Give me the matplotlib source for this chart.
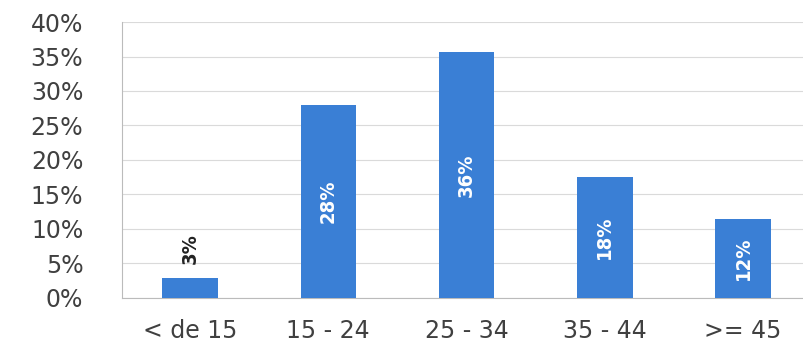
import matplotlib.pyplot as plt
import numpy as np

categories = ["< de 15", "15 - 24", "25 - 34", "35 - 44", ">= 45"]
values = [2.9, 27.9, 35.6, 17.5, 11.4]
labels = ["3%", "28%", "36%", "18%", "12%"]
yticks = [0, 5, 10, 15, 20, 25, 30, 35, 40]

blue = "#3a7fd5"
grey = "#404040"

fig = plt.figure(figsize=(8.04, 3.44), dpi=100)
ax = fig.add_axes([0.152, 0.134, 0.848, 0.802])

x = np.arange(len(categories))
ax.bar(x, values, width=0.4, color=blue, zorder=3)

for xi, v, lab in zip(x, values, labels):
    if v < 6:
        ax.text(xi, v + 2.0, lab, rotation=90, ha="center", va="bottom",
                color="#222222", fontsize=14.5, fontweight="bold",
                fontstretch="condensed")
    else:
        ax.text(xi, v / 2, lab, rotation=90, ha="center", va="center",
                color="white", fontsize=14.5, fontweight="bold",
                fontstretch="condensed")

ax.set_ylim(0, 40)
ax.set_xlim(-0.49, 4.44)
ax.set_yticks(yticks)
ax.set_yticklabels([f"{t}%" for t in yticks])
ax.set_xticks(x)
ax.set_xticklabels(categories)
ax.tick_params(axis="y", length=0, pad=28, labelsize=17, labelcolor=grey)
ax.tick_params(axis="x", length=0, pad=15, labelsize=17, labelcolor=grey)

ax.grid(axis="y", color="#dadada", linewidth=0.8, zorder=0)
for s in ["top", "right"]:
    ax.spines[s].set_visible(False)
ax.spines["left"].set_color("#bbbbbb")
ax.spines["bottom"].set_color("#bbbbbb")

plt.savefig("out.png", dpi=100)
